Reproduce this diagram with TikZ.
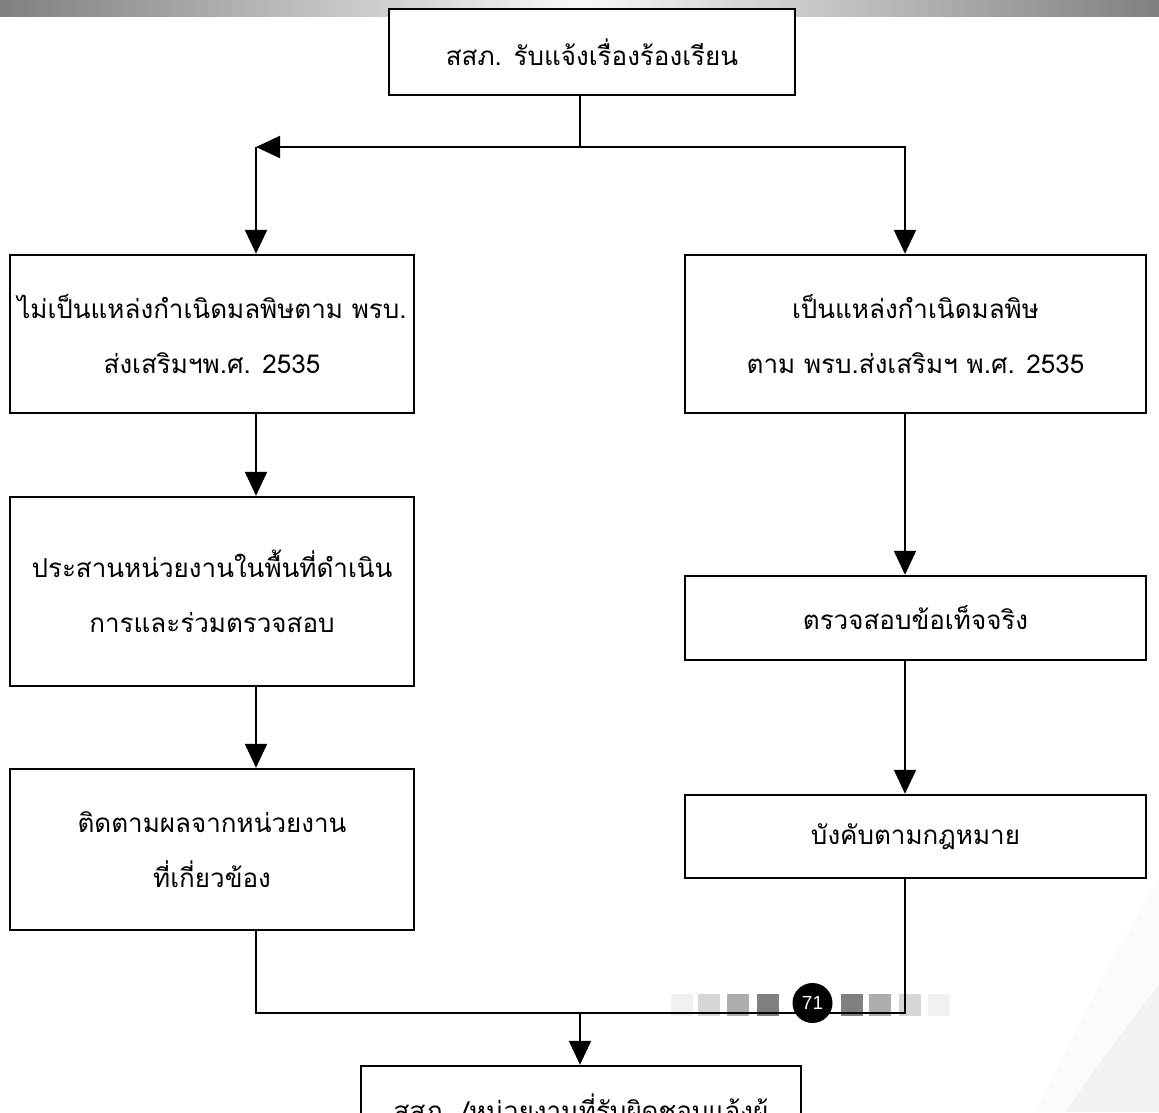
\documentclass[tikz,border=0pt]{standalone}
\usepackage{fontspec}
\newfontfamily\thai[Script=Thai]{Loma}
\newfontfamily\pgnum{Liberation Sans}
\usetikzlibrary{arrows.meta}
\begin{document}
\begin{tikzpicture}[x=1pt,y=-1pt,
  box/.style={draw=black,line width=2.4pt,fill=white,align=center,inner sep=0pt,
    font=\thai\fontsize{26}{55}\selectfont},
  conn/.style={line width=2pt},
  arr/.style={line width=2pt,-{Triangle[width=22pt,length=24pt]}},
  sq/.style={inner sep=0pt,minimum size=22pt}]
\useasboundingbox (0,0) rectangle (1159,1112);
\clip (0,0) rectangle (1159,1112);
% top gradient bar
\shade[left color=black!50,right color=black!50,middle color=black!3] (0,0) rectangle (1159,16);
% bottom-right swoosh
\fill[black!2] (1159,880) .. controls (1110,960) and (1070,1040) .. (1035,1112) -- (1159,1112) -- cycle;
\fill[black!5] (1159,985) .. controls (1120,1035) and (1090,1075) .. (1066,1112) -- (1159,1112) -- cycle;
% page number decoration
\node[sq,fill=black!6] (s1) at (682,1005) {};
\node[sq,fill=black!16] (s2) at (709,1005) {};
\node[sq,fill=black!32] (s3) at (737.5,1005) {};
\node[sq,fill=black!50] (s4) at (768,1005) {};
\node[sq,fill=black!50] (s5) at (852,1005) {};
\node[sq,fill=black!32] (s6) at (880,1005) {};
\node[sq,fill=black!16] (s7) at (910,1005) {};
\node[sq,fill=black!6] (s8) at (939,1005) {};
% boxes
\node[box,minimum width=406pt,minimum height=86pt] (T) at (592,52) {สสภ. รับแจ้งเรื่องร้องเรียน};
\node[box,minimum width=404pt,minimum height=158pt] (L1) at (212,334) {ไม่เป็นแหล่งกำเนิดมลพิษตาม พรบ.\\ส่งเสริมฯพ.ศ. 2535};
\node[box,minimum width=461pt,minimum height=158pt] (R1) at (915.5,334) {เป็นแหล่งกำเนิดมลพิษ\\ตาม พรบ.ส่งเสริมฯ พ.ศ. 2535};
\node[box,minimum width=404pt,minimum height=189pt] (L2) at (212,591.5) {ประสานหน่วยงานในพื้นที่ดำเนิน\\การและร่วมตรวจสอบ};
\node[box,minimum width=461pt,minimum height=84pt] (R2) at (915.5,618) {ตรวจสอบข้อเท็จจริง};
\node[box,minimum width=404pt,minimum height=161pt] (L3) at (212,849.5) {ติดตามผลจากหน่วยงาน\\ที่เกี่ยวข้อง};
\node[box,minimum width=461pt,minimum height=83pt] (R3) at (915.5,836.5) {บังคับตามกฎหมาย};
\node[box,minimum width=440pt,minimum height=90pt] (B) at (581,1111) {สสภ. /หน่วยงานที่รับผิดชอบแจ้งผู้};
% connector coordinates
\coordinate (J) at (580,147);
\coordinate (CL) at (256,147);
\coordinate (CR) at (905,147);
\coordinate (BL) at (256,1013);
\coordinate (BR) at (905,1013);
\coordinate (BM) at (580,1013);
% connectors
\draw[conn] (T.south -| J) -- (J);
\draw[arr] (J) -- (CL);
\draw[arr] (CL) -- (L1.north -| CL);
\draw[arr] (J) -- (CR) -- (R1.north -| CR);
\draw[arr] (L1.south -| CL) -- (L2.north -| CL);
\draw[arr] (L2.south -| CL) -- (L3.north -| CL);
\draw[arr] (R1.south -| CR) -- (R2.north -| CR);
\draw[arr] (R2.south -| CR) -- (R3.north -| CR);
\draw[conn] (L3.south -| BL) -- (BL) -- (BR) -- (R3.south -| BR);
\draw[arr] (BM) -- (B.north -| BM);
% page number
\node[circle,fill=black,inner sep=0pt,minimum size=40pt,text=white,
  font=\pgnum\fontsize{19}{19}\selectfont] (pg) at (812.5,1003) {71};
\end{tikzpicture}
\end{document}
